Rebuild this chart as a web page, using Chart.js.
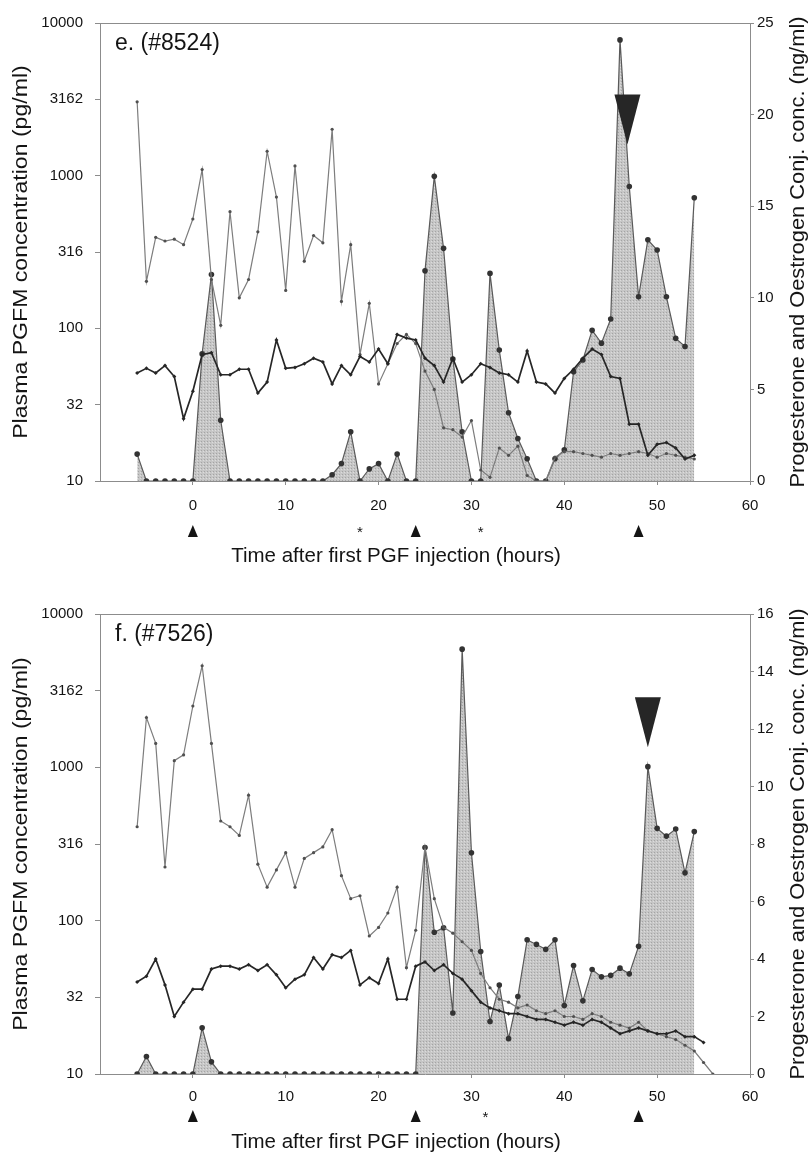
<!DOCTYPE html>
<html>
<head>
<meta charset="utf-8">
<script src="https://cdn.jsdelivr.net/npm/chart.js@4.4.1/dist/chart.umd.min.js"></script>
<style>
  html, body { margin: 0; padding: 0; background: #fff; }
  #wrap { position: relative; width: 809px; height: 1153px; }
  .panel { position: absolute; left: 0; width: 809px; }
  #panelE { top: 0; height: 570px; }
  #panelF { top: 570px; height: 583px; }
</style>
</head>
<body>
<div id="wrap">
  <div class="panel" id="panelE"><canvas id="chartE"></canvas></div>
  <div class="panel" id="panelF"><canvas id="chartF"></canvas></div>
</div>
<script>
// sampling times (hours after first PGF injection)
const hoursE = [-6,-5,-4,-3,-2,-1,0,1,2,3,4,5,6,7,8,9,10,11,12,13,14,15,16,17,18,19,20,21,22,23,24,
  25,26,27,28,29,30,31,32,33,34,35,36,37,38,39,40,41,42,43,44,45,46,47,48,49,50,51,52,53,54]
const hoursF = [-6,-5,-4,-3,-2,-1,0,1,2,3,4,5,6,7,8,9,10,11,12,13,14,15,16,17,18,19,20,21,22,23,24,
  25,26,27,28,29,30,31,32,33,34,35,36,37,38,39,40,41,42,43,44,45,46,47,48,49,50,51,52,53,54,55,56]

// cow #8524
const pgfmE = [15, 10,10,10,10,10,10, 68,225,25, 10,10,10,10,10,10,10,10,10,10,10,
  11,13,21,10,12,13,10,15,10,10, 238,990,334,63,21,10,10, 229,72,28,19,14,10,10,
  14,16,52,62,97,80,115, 7750,850,161,380,326,161,86,76,717]
const oestE = [20.7,10.9,13.3,13.1,13.2,12.9,14.3, 17.0,11.0,8.5,14.7,10.0,11.0,13.6,18.0,15.5,10.4,
  17.2,12.0,13.4,13.0,19.2,9.8,12.9,6.9,9.7,5.3, 6.4,7.5,8.0,7.5,6.0,5.0,2.9,2.8,2.4,3.3,
  0.6,0.2,1.8,1.4,1.9,0.3,0,0,1.3,1.6, 1.6,1.5,1.4,1.3,1.5,1.4,1.5,1.6,1.5,1.3, 1.5,1.4,1.3,1.2]
const progE = [5.9,6.15,5.9,6.3,5.7,3.4,4.9, 6.9,7.0,5.8,5.8,6.1,6.1,4.8,5.4,7.7,6.15,
  6.2,6.4,6.7,6.5,5.3,6.3,5.8,6.8,6.5,7.2, 6.4,8.0,7.8,7.7,6.7,6.3,5.4,6.7,5.4,5.8,
  6.4,6.2,5.9,5.8,5.4,7.1,5.4,5.3,4.8,5.6, 6.1,6.7,7.2,6.9,5.7,5.6,3.1,3.1,1.4,2.0, 2.1,1.8,1.2,1.4]

// cow #7526
const pgfmF = [10,13, 10,10,10,10,10, 20,12, 10,10,10,10,10,10,10,10,10,10,10,10,10,10,10,10,10,10,10,10,10,10,
  300,84,90,25,5900,277,63,22,38,17,32,75,70,65,75,28,51,30,48,43,44,49,45,68,
  1010,400,356,396,205,381, null,null]
const oestF = [8.6,12.4,11.5,7.2,10.9,11.1,12.8,14.2,11.5,8.8,8.6,8.3,9.7,7.3,6.5,7.1,7.7,
  6.5,7.5,7.7,7.9,8.5,6.9,6.1,6.2,4.8,5.1,5.6,6.5,3.7,5.0,
  7.9,6.1,5.1,4.9,4.6,4.3,3.5,3.0,2.6,2.5,2.3,2.4,2.2,2.1,2.2,2.0,2.0,1.9,2.1,2.0,
  1.8,1.7,1.6,1.8,1.5,1.4,1.3,1.2,1.0,0.8,0.4,0]
const progF = [3.2,3.4,4.0,3.1,2.0,2.5,2.95,2.95,3.65,3.75,3.75,3.65,3.8,3.6,3.8,3.45,3.0,
  3.3,3.45,4.05,3.65,4.15,4.05,4.3,3.1,3.35,3.15,4.0,2.6,2.6,3.75,
  3.9,3.6,3.8,3.5,3.3,2.9,2.5,2.3,2.2,2.1,2.1,2.0,1.9,1.9,1.8,1.7,1.8,1.7,1.9,1.8,
  1.6,1.4,1.5,1.6,1.5,1.4,1.4,1.5,1.3,1.3,1.1,null]

// axes
const xTicks = [0, 10, 20, 30, 40, 50, 60]
const leftTicks = [10, 31.62, 100, 316.2, 1000, 3162, 10000]
const leftTickLabels = ['10', '32', '100', '316', '1000', '3162', '10000']

// PGF injections, sampling marks (*) and time of calving
const injections = [0, 24, 48]
const starsE = [18, 31]
const starsF = [31.5]
const calvingE = { t: 46.8, v: 1600 }
const calvingF = { t: 49, v: 1350 }

const FONT = '"Liberation Sans", Arial, sans-serif'
const AXIS = '#8c8c8c'
const INK = '#141414'

// halftone grey used under the PGFM curve
function trama() {
    const c = document.createElement('canvas')
    c.width = 3
    c.height = 3
    const g = c.getContext('2d')
    g.fillStyle = '#c6c6c6'
    g.fillRect(0, 0, 3, 3)
    g.fillStyle = '#a4a4a4'
    g.fillRect(0, 0, 1, 1)
    g.fillStyle = '#dcdcdc'
    g.fillRect(2, 1, 1, 1)
    return g.createPattern(c, 'repeat')
}

function textoVertical(ctx, txt, x, y, stretch) {
    ctx.save()
    ctx.translate(x, y)
    ctx.rotate(-Math.PI / 2)
    ctx.scale(stretch, 1)
    ctx.fillText(txt, 0, 0)
    ctx.restore()
}

const panelDecor = {
    id: 'panelDecor',
    afterDraw(chart, args, o) {
        const { ctx, chartArea: a, scales } = chart
        const x = scales.x
        const yL = scales.yL
        ctx.save()

        // frame top
        ctx.strokeStyle = AXIS
        ctx.lineWidth = 1
        ctx.beginPath()
        ctx.moveTo(a.left, a.top + 0.5)
        ctx.lineTo(a.right, a.top + 0.5)
        ctx.stroke()

        ctx.fillStyle = INK
        ctx.font = '23px ' + FONT
        ctx.textAlign = 'left'
        ctx.textBaseline = 'top'
        ctx.fillText(o.label, a.left + 15, a.top + 9)

        // calving arrow
        const bx = x.getPixelForValue(o.calving.t)
        const by = yL.getPixelForValue(o.calving.v)
        ctx.fillStyle = '#262626'
        ctx.beginPath()
        ctx.moveTo(bx, by)
        ctx.lineTo(bx - 13, by - 50)
        ctx.lineTo(bx + 13, by - 50)
        ctx.closePath()
        ctx.fill()

        // injection marks under the axis
        ctx.fillStyle = INK
        injections.forEach(t => {
            const p = x.getPixelForValue(t)
            const yb = a.bottom + o.markGap
            ctx.beginPath()
            ctx.moveTo(p, yb - 12)
            ctx.lineTo(p - 5, yb)
            ctx.lineTo(p + 5, yb)
            ctx.closePath()
            ctx.fill()
        })

        ctx.font = '15px ' + FONT
        ctx.textAlign = 'center'
        ctx.textBaseline = 'middle'
        o.stars.forEach(t => {
            ctx.fillText('*', x.getPixelForValue(t), a.bottom + o.markGap - 4)
        })

        // axis titles
        ctx.font = '20.5px ' + FONT
        ctx.fillText('Time after first PGF injection (hours)', 396, a.bottom + o.titleGap)

        const midY = (a.top + a.bottom) / 2
        ctx.font = '21px ' + FONT
        textoVertical(ctx, 'Plasma PGFM concentration (pg/ml)', 21, midY, 1.1)
        textoVertical(ctx, 'Progesterone and Oestrogen Conj. conc. (ng/ml)', 798, midY, 1.04)

        ctx.restore()
    }
}

function pontos(horas, valores) {
    return horas.map((h, i) => ({ x: h, y: valores[i] }))
}

function desenharPainel(id, cfg) {
    const tickFont = { family: FONT, size: 15 }
    return new Chart(document.getElementById(id), {
        type: 'line',
        data: {
            datasets: [
                {
                    label: 'Oestrogen conj.',
                    data: pontos(cfg.hours, cfg.oest),
                    yAxisID: 'yR',
                    borderColor: '#7d7d7d',
                    borderWidth: 1.2,
                    pointRadius: 1.6,
                    pointBackgroundColor: '#505050',
                    pointBorderWidth: 0,
                    tension: 0,
                    order: 2
                },
                {
                    label: 'Progesterone',
                    data: pontos(cfg.hours, cfg.prog),
                    yAxisID: 'yR',
                    borderColor: '#262626',
                    borderWidth: 1.7,
                    pointRadius: 2,
                    pointStyle: 'rectRot',
                    pointBackgroundColor: '#262626',
                    pointBorderWidth: 0,
                    tension: 0,
                    order: 1
                },
                {
                    label: 'PGFM',
                    data: pontos(cfg.hours, cfg.pgfm),
                    yAxisID: 'yL',
                    fill: 'start',
                    backgroundColor: trama(),
                    borderColor: '#5a5a5a',
                    borderWidth: 1.2,
                    pointRadius: 2.8,
                    pointBackgroundColor: '#333',
                    pointBorderWidth: 0,
                    tension: 0,
                    order: 3
                }
            ]
        },
        options: {
            responsive: true,
            maintainAspectRatio: false,
            animation: false,
            layout: { padding: { top: cfg.top, left: 0, right: 0, bottom: 0 } },
            plugins: {
                legend: { display: false },
                tooltip: { enabled: false },
                panelDecor: {
                    label: cfg.label,
                    calving: cfg.calving,
                    stars: cfg.stars,
                    markGap: cfg.markGap,
                    titleGap: cfg.titleGap
                }
            },
            scales: {
                x: {
                    type: 'linear',
                    min: -10,
                    max: 60,
                    afterBuildTicks: s => { s.ticks = xTicks.map(v => ({ value: v })) },
                    afterFit: s => { s.height = cfg.xHeight },
                    grid: { drawOnChartArea: false, tickLength: 4, color: AXIS },
                    border: { color: AXIS },
                    ticks: { color: INK, font: tickFont, padding: cfg.xPad, autoSkip: false, maxRotation: 0 }
                },
                yL: {
                    type: 'logarithmic',
                    position: 'left',
                    min: 10,
                    max: 10000,
                    afterBuildTicks: s => { s.ticks = leftTicks.map(v => ({ value: v })) },
                    afterFit: s => { s.width = 100 },
                    grid: { drawOnChartArea: false, tickLength: 5, color: AXIS },
                    border: { color: AXIS },
                    ticks: {
                        color: INK, font: tickFont, padding: 12, autoSkip: false,
                        callback: (v, i) => leftTickLabels[i]
                    }
                },
                yR: {
                    type: 'linear',
                    position: 'right',
                    min: 0,
                    max: cfg.rightMax,
                    afterFit: s => { s.width = 59 },
                    grid: { drawOnChartArea: false, tickLength: 4, color: AXIS },
                    border: { color: AXIS },
                    ticks: { color: INK, font: tickFont, padding: 3, stepSize: cfg.rightStep }
                }
            }
        },
        plugins: [panelDecor]
    })
}

desenharPainel('chartE', {
    hours: hoursE, pgfm: pgfmE, oest: oestE, prog: progE,
    label: 'e. (#8524)', calving: calvingE, stars: starsE,
    rightMax: 25, rightStep: 5,
    top: 23, xHeight: 89, xPad: 12, markGap: 56, titleGap: 75
})

desenharPainel('chartF', {
    hours: hoursF, pgfm: pgfmF, oest: oestF, prog: progF,
    label: 'f. (#7526)', calving: calvingF, stars: starsF,
    rightMax: 16, rightStep: 2,
    top: 44, xHeight: 79, xPad: 10, markGap: 48, titleGap: 68
})
</script>
</body>
</html>
